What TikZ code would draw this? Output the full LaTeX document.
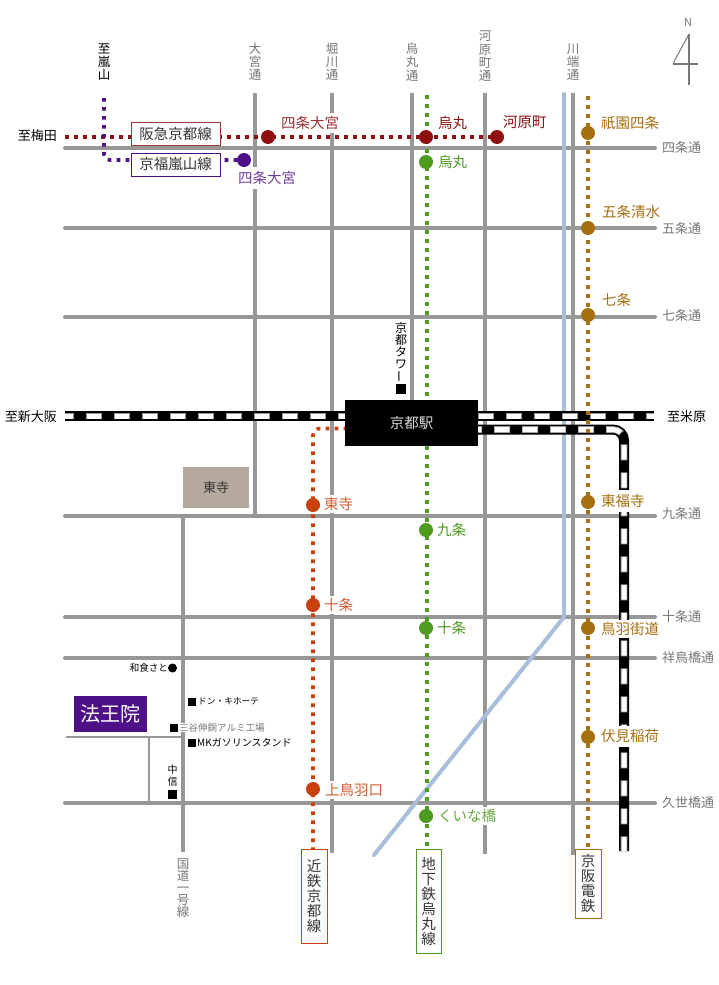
\documentclass[tikz,border=0pt]{standalone}
\usepackage{fontspec}
\usepackage{graphicx}
\setmainfont{Noto Sans CJK JP}
\definecolor{road}{HTML}{979797}
\definecolor{river}{HTML}{A9BEDA}
\definecolor{hankyu}{HTML}{8E1010}
\definecolor{randen}{HTML}{4D1087}
\definecolor{subway}{HTML}{4F9A20}
\definecolor{keihan}{HTML}{A67010}
\definecolor{kintetsu}{HTML}{C8400D}
\definecolor{labelgray}{HTML}{777777}
\definecolor{tojibox}{HTML}{B5A89C}
\tikzset{
  x=1pt,y=-1pt,
  roadline/.style={draw=road,line width=4pt},
  smallroad/.style={draw=road,line width=2.4pt},
  riverline/.style={draw=river,line width=4pt,line join=round},
  dotted line/.style={line width=3.7pt,dash pattern=on 3.7pt off 5.3pt},
  stn/.style={circle,fill=#1,minimum size=14pt,inner sep=0pt},
  stnlabel/.style={anchor=west,fill=white,inner sep=0pt,minimum height=18pt,text=#1,font=\fontsize{14.5}{15}\selectfont},
  vlabel/.style={align=center,inner sep=0pt,text=labelgray,font=\fontsize{12.5}{13.2}\selectfont},
  vblack/.style={align=center,inner sep=0pt,text=black,font=\fontsize{12.5}{13.2}\selectfont},
  hlabel/.style={anchor=west,inner sep=0pt,text=labelgray,font=\fontsize{13}{14}\selectfont},
  hblack/.style={inner sep=0pt,text=black,font=\fontsize{13}{14}\selectfont},
  linebox/.style={draw=#1,line width=1pt,fill=white,inner sep=0pt,align=center,text=black!80,font=\fontsize{14.5}{15}\selectfont},
  poi/.style={fill=black,inner sep=0pt,minimum size=8pt},
  poitext/.style={anchor=west,inner sep=0pt,text=black,font=\fontsize{9.5}{10}\selectfont},
  trackbase/.style={draw=black,line width=10pt},
  trackedge/.style={draw=road,line width=6.6pt,dash pattern=on 16pt off 12pt,dash phase=#1},
  trackdash/.style={draw=white,line width=5pt,dash pattern=on 14.6pt off 13.4pt,dash phase=#1},
}
\begin{document}
\begin{tikzpicture}
\useasboundingbox (0,0) rectangle (719,985);
\fill[white] (0,0) rectangle (719,985);
% named road ends
\foreach \n/\y in {shijo/148,gojo/228,shichijo/317,kujo/516,jujo/617,shocho/658,kuze/803}{
  \coordinate (\n W) at (65,\y); \coordinate (\n E) at (655,\y);
  \draw[roadline,line cap=round] (\n W) -- (\n E);
}
\coordinate (omiyaN) at (255,93); \coordinate (omiyaS) at (255,516);
\coordinate (horiN) at (332,93); \coordinate (horiS) at (332,853);
\coordinate (karaN) at (412,93); \coordinate (karaS) at (412,405);
\coordinate (kawaN) at (485,93); \coordinate (kawaS) at (485,854);
\coordinate (kabaN) at (573,93); \coordinate (kabaS) at (573,855);
\coordinate (kokuN) at (183,516); \coordinate (kokuS) at (183,852);
\foreach \n in {omiya,hori,kara,kawa,kaba,koku}{\draw[roadline] (\n N) -- (\n S);}
\coordinate (rivN) at (564,94); \coordinate (rivB) at (564,617); \coordinate (rivS) at (374,855);
\draw[riverline,line cap=round] (rivN) -- (rivB) -- (rivS);
\coordinate (sideW) at (66,737); \coordinate (sideE) at (183,737);
\coordinate (sideT) at (149,737); \coordinate (sideB) at (149,803);
\draw[smallroad] (sideW) -- (sideE);
\draw[smallroad] (sideT) -- (sideB);
% JR
\coordinate (jrW) at (65,416); \coordinate (jrE) at (654,416);
\draw[trackbase] (jrW) -- (jrE);
\draw[trackedge=7] (jrW) -- (jrE);
\draw[trackdash=6.3] (jrW) -- (jrE);
\coordinate (shA) at (478,429.5); \coordinate (shB) at (624,429.5); \coordinate (shC) at (624,851);
\draw[trackbase,rounded corners=11pt] (shA) -- (shB) -- (shC);
\draw[trackedge=12,rounded corners=11pt] (shA) -- (shB) -- (shC);
\draw[trackdash=11.3,rounded corners=11pt] (shA) -- (shB) -- (shC);
% private lines
\coordinate (hkW) at (65,137); \coordinate (hkE) at (497,137);
\draw[hankyu,dotted line] (hkW) -- (hkE);
\coordinate (kfN) at (104,98); \coordinate (kfC) at (104,160); \coordinate (kfE) at (244,160);
\draw[randen,dotted line,rounded corners=6pt] (kfN) -- (kfC) -- (kfE);
\coordinate (gnN) at (427,95); \coordinate (gnS) at (427,850);
\draw[subway,dotted line] (gnN) -- (gnS);
\coordinate (khN) at (588,96); \coordinate (khS) at (588,850);
\draw[keihan,dotted line] (khN) -- (khS);
\coordinate (kiS) at (313,851); \coordinate (kiC) at (313,428.5); \coordinate (kiE) at (345,428.5);
\draw[kintetsu,dotted line,rounded corners=7pt] (kiS) -- (kiC) -- (kiE);
% Kyoto station
\node[fill=black,minimum width=133pt,minimum height=46pt,inner sep=0pt,text=white!85!black,font=\fontsize{14.5}{15}\selectfont] (kyoto) at (411.5,423) {京都駅};
% line name boxes
\node[linebox=hankyu!85!white,minimum width=89pt,minimum height=23pt] (bHankyu) at (175.5,133.5) {阪急京都線};
\node[linebox=randen,minimum width=89pt,minimum height=23pt] (bRanden) at (175.5,164.5) {京福嵐山線};
\node[linebox=kintetsu,minimum width=26pt,minimum height=94pt] (bKintetsu) at (314,896) {近\\鉄\\京\\都\\線};
\node[linebox=subway,minimum width=25pt,minimum height=104pt] (bSubway) at (428.5,901) {地\\下\\鉄\\烏\\丸\\線};
\node[linebox=keihan,minimum width=26pt,minimum height=69pt] (bKeihan) at (588,883.5) {京\\阪\\電\\鉄};
% station labels
\node[stnlabel=hankyu!85!white,minimum height=20pt] (l1) at (281,122.5) {四条大宮};
\node[stnlabel=hankyu] (l2) at (438,122.5) {烏丸};
\node[stnlabel=hankyu] (l3) at (503,122.5) {河原町};
\node[stnlabel=randen!80!white,minimum height=22pt] (l4) at (238,178) {四条大宮};
\node[stnlabel=subway] (l5) at (438,162) {烏丸};
\node[stnlabel=subway] (l6) at (437,530) {九条};
\node[stnlabel=subway] (l7) at (437,628) {十条};
\node[stnlabel=subway!85!white] (l8) at (438,816) {くいな橋};
\node[stnlabel=keihan] (l9) at (601,123) {祇園四条};
\node[stnlabel=keihan] (l10) at (602,212) {五条清水};
\node[stnlabel=keihan] (l11) at (602,300) {七条};
\node[stnlabel=keihan,minimum height=22pt] (l12) at (601,501) {東福寺};
\node[stnlabel=keihan] (l13) at (601,629) {鳥羽街道};
\node[stnlabel=keihan,minimum height=21pt] (l14) at (601,736) {伏見稲荷};
\node[stnlabel=kintetsu!85!white] (l15) at (324,504) {東寺};
\node[stnlabel=kintetsu!85!white] (l16) at (324,605) {十条};
\node[stnlabel=kintetsu!85!white] (l17) at (325,790) {上鳥羽口};
% stations
\node[stn=hankyu] (s1) at (268,137) {};
\node[stn=hankyu] (s2) at (426,137) {};
\node[stn=hankyu] (s3) at (497,137) {};
\node[stn=randen] (s4) at (244,160) {};
\node[stn=subway] (s5) at (426,162) {};
\node[stn=subway] (s6) at (426,530) {};
\node[stn=subway] (s7) at (426,628) {};
\node[stn=subway] (s8) at (426,816) {};
\node[stn=keihan] (s9) at (588,133) {};
\node[stn=keihan] (s10) at (588,228) {};
\node[stn=keihan] (s11) at (588,315) {};
\node[stn=keihan] (s12) at (588,502) {};
\node[stn=keihan] (s13) at (588,628) {};
\node[stn=keihan] (s14) at (588,737) {};
\node[stn=kintetsu] (s15) at (313,505) {};
\node[stn=kintetsu] (s16) at (313,605) {};
\node[stn=kintetsu] (s17) at (313,789) {};
% road names, vertical
\node[vlabel] (n1) at (255,62) {大\\宮\\通};
\node[vlabel] (n2) at (332,62) {堀\\川\\通};
\node[vlabel] (n3) at (412,62) {烏\\丸\\通};
\node[vlabel] (n4) at (485,56) {河\\原\\町\\通};
\node[vlabel] (n5) at (573,62) {川\\端\\通};
\node[vlabel,font=\fontsize{12.5}{12.2}\selectfont] (n6) at (183,888) {国\\道\\一\\号\\線};
\node[vblack] (n7) at (104,62) {至\\嵐\\山};
% road names, horizontal
\node[hlabel] (r1) at (662,148) {四条通};
\node[hlabel] (r2) at (662,229) {五条通};
\node[hlabel] (r3) at (662,316) {七条通};
\node[hlabel] (r4) at (662,514) {九条通};
\node[hlabel] (r5) at (662,617) {十条通};
\node[hlabel] (r6) at (662,658) {祥鳥橋通};
\node[hlabel] (r7) at (662,803) {久世橋通};
% destinations
\node[hblack,anchor=east] (d1) at (57,136) {至梅田};
\node[hblack,anchor=east] (d2) at (57,417) {至新大阪};
\node[hblack,anchor=west] (d3) at (667,417) {至米原};
% landmarks
\node[fill=tojibox,minimum width=66pt,minimum height=41pt,inner sep=0pt,text=black!80,font=\fontsize{13}{14}\selectfont] (toji) at (216,487.5) {東寺};
\node[fill=randen,minimum width=73pt,minimum height=36pt,inner sep=0pt,text=white,font=\fontsize{20}{21}\selectfont] (hoo) at (110.5,714) {法王院};
\node[poi,circle,minimum size=9pt] (p1) at (172.5,668) {};
\node[poitext,anchor=east] (t1) at (168,668) {和食さと};
\node[poi] (p2) at (192,701.5) {};
\node[poitext,font=\fontsize{8.7}{10}\selectfont] (t2) at (198,701.5) {ドン・キホーテ};
\node[poitext,fill=white,text=labelgray] (t3) at (179,727.5) {三谷伸銅アルミ工場};
\node[poi] (p3) at (173.5,727.5) {};
\node[poi] (p4) at (192,743) {};
\node[poitext,font=\fontsize{10}{11}\selectfont] (t4) at (197,743) {MKガソリンスタンド};
\node[poi,minimum size=9pt] (p5) at (172.5,794) {};
\node[poitext,anchor=center,align=center,font=\fontsize{10}{12}\selectfont] (t5) at (172.5,776) {中\\信};
\node[poi,minimum size=10pt] (p6) at (401,388.5) {};
\node[vblack,font=\fontsize{12}{12}\selectfont] (t6) at (401,352.5) {京\\都\\タ\\ワ\\\rotatebox{90}{ー}};
% north mark
\node[inner sep=0pt,text=labelgray,font=\fontsize{11}{12}\selectfont] (north) at (688,22) {N};
\coordinate (nTop) at (689,34); \coordinate (nBot) at (689,85);
\coordinate (nL) at (673,63.5); \coordinate (nR) at (698,63.5);
\draw[labelgray,line width=2pt] (nTop) -- (nBot);
\draw[labelgray,line width=2pt] (nL) -- (nR);
\draw[labelgray,line width=1pt] (nTop) -- (nL);
\end{tikzpicture}
\end{document}
